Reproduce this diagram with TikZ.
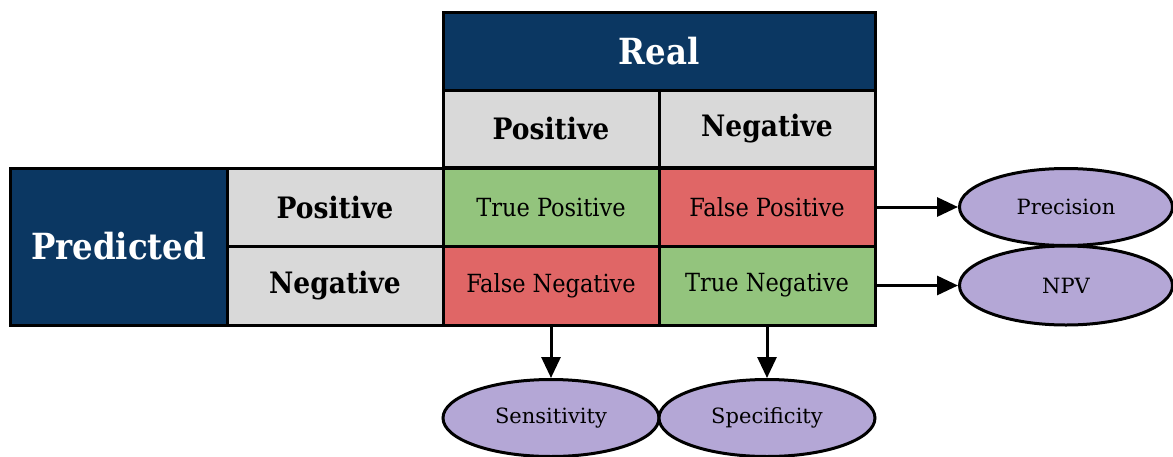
\documentclass[tikz,border=0pt]{standalone}
\usepackage{fontspec}
\setmainfont{DejaVu Serif}
\newfontfamily\slabcond{DejaVu Serif Condensed}
\usetikzlibrary{arrows.meta,shapes.geometric}
\definecolor{navy}{HTML}{0B3762}
\definecolor{headgray}{HTML}{D9D9D9}
\definecolor{goodgreen}{HTML}{93C47D}
\definecolor{badred}{HTML}{E06666}
\definecolor{lilac}{HTML}{B4A7D6}
\begin{document}
\begin{tikzpicture}[x=1pt,y=-1pt,line width=3pt,
  cell/.style={draw=black,rectangle,minimum width=216pt,minimum height=78pt,
    inner sep=0pt,outer sep=0pt,font=\slabcond\fontsize{25}{28}\selectfont},
  head/.style={cell,fill=headgray,font=\slabcond\bfseries\fontsize{29.5}{32}\selectfont},
  title/.style={cell,fill=navy,text=white,font=\slabcond\bfseries\fontsize{36}{40}\selectfont},
  good/.style={cell,fill=goodgreen},
  bad/.style={cell,fill=badred},
  oval/.style={draw=black,ellipse,fill=lilac,minimum width=213pt,minimum height=77pt,
    inner sep=0pt,font=\fontsize{21}{24}\selectfont},
  arr/.style={-{Triangle[length=21pt,width=19pt]}}]
\useasboundingbox (0,0) rectangle (1173,456);

% column headers
\node[title,minimum width=432pt] (real) at (659,51) {Real};
\node[head,minimum height=77pt] (rpos) at (551,128.5) {Positive};
\node[head,minimum height=77pt] (rneg) at (767,128.5) {Negative};

% row headers
\node[title,minimum width=217pt,minimum height=157pt] (pred) at (118.5,246.5) {Predicted};
\node[head] (ppos) at (335,207) {Positive};
\node[head,minimum height=79pt] (pneg) at (335,285.5) {Negative};

% outcome cells
\node[good] (tp) at (551,207) {True Positive};
\node[bad] (fp) at (767,207) {False Positive};
\node[bad,minimum height=79pt] (fn) at (551,285.5) {False Negative};
\node[good,minimum height=79pt] (tn) at (767,285.5) {True Negative};

% derived metrics
\node[oval] (prec) at (1066,207) {Precision};
\node[oval,minimum height=79pt] (npv) at (1066,285.5) {NPV};
\node[oval,minimum width=216pt] (sens) at (551,418) {Sensitivity};
\node[oval,minimum width=216pt] (spec) at (767,418) {Specificity};

\draw[arr] (fp.east) -- (prec.west);
\draw[arr] (tn.east) -- (npv.west);
\draw[arr] (fn.south) -- (sens.north);
\draw[arr] (tn.south) -- (spec.north);
\end{tikzpicture}
\end{document}
